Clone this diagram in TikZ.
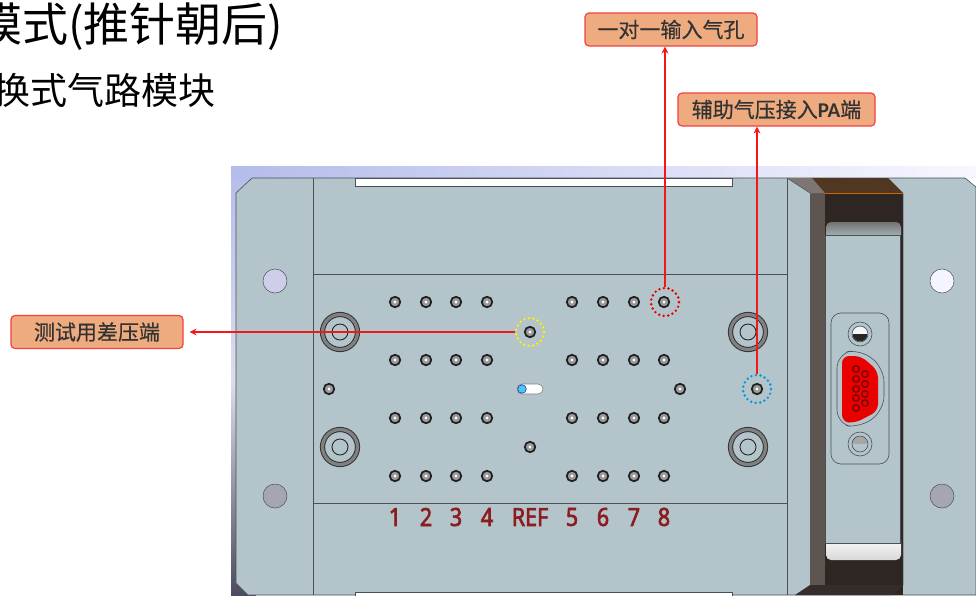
\documentclass[tikz,border=0pt]{standalone}
\usepackage{fontspec}
\setmainfont{Noto Sans CJK SC}
\newfontfamily\numfont[FakeStretch=0.86, RawFeature={embolden=2.5}]{Noto Sans}
\newfontfamily\pafont{Carlito}
\newfontfamily\boxfont[RawFeature={embolden=0.5}]{Noto Sans CJK SC}
\usepackage{tikz}
\usetikzlibrary{calc,arrows.meta,positioning}
\definecolor{plate}{HTML}{B3C4CA}
\definecolor{edgeline}{HTML}{4A5058}
\definecolor{boxfill}{HTML}{EFAB80}
\definecolor{boxline}{HTML}{F5403F}
\definecolor{numred}{HTML}{8C1D1F}
\definecolor{brown}{HTML}{5E5450}
\definecolor{darkbrown}{HTML}{2E2622}
\definecolor{leadred}{HTML}{F01818}
\definecolor{pinred}{HTML}{6A080C}
\definecolor{sidetop}{HTML}{B4BCEA}
\definecolor{sidemid}{HTML}{DCDDEE}
\definecolor{sidelow}{HTML}{4C4C60}
\tikzset{
  callout/.style={draw=boxline, fill=boxfill, line width=1.2pt, rounded corners=4pt, minimum height=33pt, inner sep=0pt, text=black!80, font=\boxfont\fontsize{21}{21}\selectfont},
  port/.style={circle, draw=black!88, line width=1.7pt, fill=black!40, inner sep=0pt, minimum size=10.5pt,
    path picture={\fill[white] (path picture bounding box.center) circle (1.7pt);}},
  bigring/.style={circle, draw=black!80, double=black!50, double distance=3.2pt, line width=1pt, fill=plate, inner sep=0pt, minimum size=35pt,
    path picture={\draw[black!85, line width=.9pt] (path picture bounding box.center) circle (8pt);}},
  hole/.style={circle, draw=edgeline, line width=.5pt, inner sep=0pt, minimum size=24pt},
  ring/.style={circle, inner sep=0pt, minimum size=28pt, line width=2.7pt, line cap=round, dash pattern=on 0pt off 4.6pt},
  lead/.style={draw=leadred, line width=1.5pt, -{Stealth[length=7pt,width=7pt]}},
  num/.style={text=numred, inner sep=0pt, font=\numfont\fontsize{25}{25}\selectfont},
  pin/.style={circle, draw=pinred, line width=1.2pt, inner sep=0pt, minimum size=6.5pt},
  screw/.style={circle, draw=edgeline, line width=.6pt, inner sep=0pt, minimum size=24pt}
}
\begin{document}
\begin{tikzpicture}[x=1pt, y=-1pt]
    \useasboundingbox (0,0) rectangle (976,595);
    % background behind the plate
    \shade[top color=sidetop, bottom color=sidelow, middle color=sidemid] (231,166) rectangle (256,595);
    \shade[left color=sidetop, right color=blue!3!white] (231,166) rectangle (976,178);
    % plate
    \filldraw[fill=plate, draw=edgeline, line width=.6pt] (252,178) -- (965,178) -- (976,187) -- (976,595) -- (248,595) -- (236,583) -- (236,193) -- cycle;
    \draw[edgeline, line width=.6pt] (313,178) -- (313,595) (787,178) -- (787,595);
    \draw[edgeline, line width=1pt] (313,274) -- (787,274) (313,503) -- (787,503);
    \filldraw[fill=white, draw=edgeline, line width=.6pt] (355,178) rectangle (732,186);
    \filldraw[fill=white, draw=edgeline, line width=.6pt] (355,592) rectangle (732,596);
    % handle on the right
    \fill[brown] (810,193) rectangle (825,595);
    \fill[brown!80!white] (787,178) -- (812,178) -- (825,193) -- (810,193) -- cycle;
    \fill[darkbrown] (825,193) rectangle (903,595);
    \fill[darkbrown!85!orange!90!brown] (812,178) -- (888,178) -- (903,193) -- (825,193) -- cycle;
    \draw[orange!80!black, line width=.5pt] (825,193) -- (903,193);
    \fill[darkbrown!85!brown] (795,595) -- (810,585) -- (903,585) -- (893,595) -- cycle;
    \shade[top color=black!55, bottom color=plate, rounded corners=5pt] (826,222) rectangle (901,240);
    \shade[top color=white, bottom color=white!85!black, rounded corners=5pt] (826,535) rectangle (901,560);
    \filldraw[fill=plate, draw=edgeline, line width=.5pt] (825,235) rectangle (900,543);
    \draw[edgeline, line width=.5pt] (903,193) -- (903,585) (787,178) -- (810,193);
    % connector
    \draw[edgeline, line width=.6pt, rounded corners=10pt] (831,313) rectangle (889,464);
    \draw[edgeline, line width=.6pt, rounded corners=14pt] (837,354) -- (860,349) -- (884,368) -- (884,410) -- (860,428) -- (837,424) -- cycle;
    \fill[red!92!black!100, rounded corners=7pt] (842,356) -- (861,356) -- (878,371) -- (878,411) -- (855,423) -- (842,422) -- cycle;
    \foreach \y in {369,379,389,398,408} \node[pin] (pinL\y) at (856,\y) {};
    \foreach \y in {374,384,394,403} \node[pin] (pinR\y) at (865,\y) {};
    \node[screw] (screwT) at (860,334) {};
    \node[screw] (screwB) at (860,444) {};
    \fill[white!85!plate] (860,334) circle (7.5pt);
    \fill[black!85] (852.5,334) arc (180:360:7.5pt) -- cycle;
    \draw[edgeline, line width=.6pt] (860,334) circle (8pt);
    \fill[black!35] (860,444) circle (7.5pt);
    \fill[plate] (852.5,444) arc (180:360:7.5pt) -- cycle;
    \draw[edgeline, line width=.6pt] (860,444) circle (8pt);
    % mounting holes
    \node[hole, fill=blue!12!white!92!black] (holeTL) at (275,281) {};
    \node[hole, fill=blue!10!black!35] (holeBL) at (275,496) {};
    \node[hole, fill=blue!4!white] (holeTR) at (942,281) {};
    \node[hole, fill=blue!10!black!35] (holeBR) at (942,496) {};
    \foreach \x/\y/\n in {340/332/A,340/447/B,748/332/C,748/447/D}
        \node[bigring] (big\n) at (\x,\y) {};
    % ports
    \foreach \y/\r in {302/a,360/b,418/c,476/d}
        \foreach \x/\n in {395/1,426/2,456/3,487/4,572/5,603/6,634/7,664/8}
            \node[port] (port\r\n) at (\x,\y) {};
    \node[port] (portDiff) at (530,332) {};
    \node[port] (portL) at (329,389) {};
    \node[port] (portRef) at (530,447) {};
    \node[port] (portR) at (680,389) {};
    \node[port] (portPA) at (757,389) {};
    % switch
    \filldraw[fill=white, draw=black!50, line width=.6pt, rounded corners=5pt] (517,384) rectangle (543,394);
    \filldraw[fill=cyan!70!white, draw=blue!60!black, line width=.4pt] (522,389) circle (4.3pt);
    % numbers
    \foreach \x/\n in {395/1,426/2,456/3,487/4,530/REF,572/5,603/6,634/7,664/8}
        \node[num] (num\n) at (\x,517) {\n};
    % rings
    \node[ring, draw=yellow] (ringDiff) at (530,332) {};
    \node[ring, draw=red!90!black] (ringIn) at (665,302) {};
    \node[ring, draw=cyan!80!blue] (ringPA) at (757,389) {};
    % callouts
    \node[callout, minimum width=172pt] (boxIn) at (671,29.5) {一对一输入气孔};
    \node[callout, minimum width=197pt] (boxPA) at (776.5,109.5) {辅助气压接入{\pafont\bfseries PA}端};
    \node[callout, minimum width=172pt] (boxDiff) at (97,332) {测试用差压端};
    \draw[lead] (ringIn.north) -- (ringIn.north |- boxIn.south);
    \draw[lead] (ringPA.north) -- (ringPA.north |- boxPA.south);
    \draw[lead, shorten >=6pt] (ringDiff.west) -- (boxDiff.east);
    % title
    \node[anchor=west, inner sep=0pt, font=\fontsize{46}{46}\selectfont] (title) at (-24,27) {模式(推针朝后)};
    \node[anchor=west, inner sep=0pt, font=\fontsize{37}{37}\selectfont] (subtitle) at (-7,90) {换式气路模块};
\end{tikzpicture}
\end{document}
